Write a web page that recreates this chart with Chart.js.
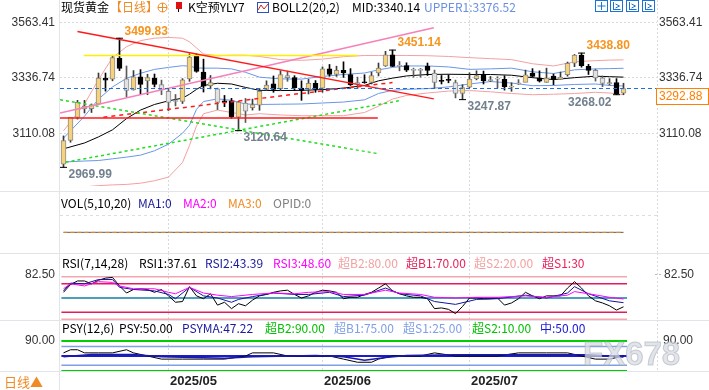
<!DOCTYPE html>
<html>
<head>
<meta charset="utf-8">
<script src="https://cdn.jsdelivr.net/npm/chart.js@4.4.1/dist/chart.umd.min.js"></script>
<style>
  html, body { margin: 0; padding: 0; background: #fff; }
  #wrap { position: relative; width: 709px; height: 390px; overflow: hidden; background: #fff;
          font-family: "Noto Sans CJK SC", "Liberation Sans", sans-serif; }
  #wrap canvas { position: absolute; left: 0; }
  .t { position: absolute; white-space: nowrap; line-height: 14px; font-size: 12px; color: #000; z-index: 5; }
  .hl { position: absolute; background: #e1e5ea; z-index: 4; }
</style>
</head>
<body>
<div id="wrap">
  <canvas id="cMain" width="709" height="191" style="top:0"></canvas>
  <canvas id="cVol" width="709" height="62" style="top:191px"></canvas>
  <canvas id="cRsi" width="709" height="67" style="top:253px"></canvas>
  <canvas id="cPsy" width="709" height="70" style="top:320px"></canvas>

  <!-- frame lines -->
  <div class="hl" style="left:59px;top:0;width:1px;height:390px"></div>
  <div class="hl" style="left:0;top:191px;width:709px;height:1px"></div>
  <div class="hl" style="left:0;top:253px;width:709px;height:1px"></div>
  <div class="hl" style="left:0;top:320px;width:709px;height:1px"></div>
  <div class="hl" style="left:0;top:371px;width:709px;height:1px"></div>

  <!-- header -->
  <span class="t" style="left:61px;top:0">现货黄金</span>
  <span class="t" style="left:110px;top:0;color:#f08a24">【日线】</span>
  <span class="t" style="left:188px;top:0">K空预YLY7</span>
  <span class="t" style="left:272px;top:0">BOLL2(20,2)</span>
  <span class="t" style="left:352px;top:0">MID:3340.14</span>
  <span class="t" style="left:424px;top:0;color:#6a8fe0">UPPER1:3376.52</span>

  <!-- VOL legend -->
  <span class="t" style="left:61px;top:196px">VOL(5,10,20)</span>
  <span class="t" style="left:138px;top:196px;color:#1a1a9a">MA1:0</span>
  <span class="t" style="left:183px;top:196px;color:#ff00ff">MA2:0</span>
  <span class="t" style="left:228px;top:196px;color:#f08a24">MA3:0</span>
  <span class="t" style="left:273px;top:196px;color:#808080">OPID:0</span>

  <!-- RSI legend -->
  <span class="t" style="left:62px;top:256px">RSI(7,14,28)</span>
  <span class="t" style="left:139px;top:256px">RSI1:37.61</span>
  <span class="t" style="left:205px;top:256px;color:#1a1a9a">RSI2:43.39</span>
  <span class="t" style="left:273px;top:256px;color:#ff00ff">RSI3:48.60</span>
  <span class="t" style="left:338px;top:256px;color:#f4a0a0">超B2:80.00</span>
  <span class="t" style="left:406px;top:256px;color:#e8205a">超B1:70.00</span>
  <span class="t" style="left:474px;top:256px;color:#f4a0a0">超S2:20.00</span>
  <span class="t" style="left:542px;top:256px;color:#e8205a">超S1:30</span>

  <!-- PSY legend -->
  <span class="t" style="left:62px;top:321px">PSY(12,6)</span>
  <span class="t" style="left:119px;top:321px">PSY:50.00</span>
  <span class="t" style="left:182px;top:321px;color:#1a1a9a">PSYMA:47.22</span>
  <span class="t" style="left:265px;top:321px;color:#00c000">超B2:90.00</span>
  <span class="t" style="left:334px;top:321px;color:#7f9fe6">超B1:75.00</span>
  <span class="t" style="left:403px;top:321px;color:#7f9fe6">超S1:25.00</span>
  <span class="t" style="left:472px;top:321px;color:#00c000">超S2:10.00</span>
  <span class="t" style="left:540px;top:321px;color:#1a1adb">中:50.00</span>

  <span class="t" style="left:4px;top:375px;font-size:13px;color:#f08a24">日线▲</span>
  <span class="t" style="left:583px;top:337px;font:bold 33px 'Liberation Sans',sans-serif;line-height:34px;color:rgba(215,219,226,0.75);-webkit-text-stroke:1px rgba(170,176,186,0.6)">FX678</span>
</div>

<script>
// ---------------------------------------------------------------
//  data (daily candles, 2025/04/09 - 07/31)
// ---------------------------------------------------------------
const dates = [
  '04/09','04/10','04/11','04/14','04/15','04/16','04/17','04/21','04/22','04/23','04/24','04/25','04/28','04/29','04/30',
  '05/01','05/02','05/05','05/06','05/07','05/08','05/09','05/12','05/13','05/14','05/15','05/16','05/19','05/20','05/21','05/22','05/23','05/26','05/27','05/28','05/29','05/30',
  '06/02','06/03','06/04','06/05','06/06','06/09','06/10','06/11','06/12','06/13','06/16','06/17','06/18','06/19','06/20','06/23','06/24','06/25','06/26','06/27','06/30',
  '07/01','07/02','07/03','07/04','07/07','07/08','07/09','07/10','07/11','07/14','07/15','07/16','07/17','07/18','07/21','07/22','07/23','07/24','07/25','07/28','07/29','07/30','07/31'
];
const opens = [
  2983,3080,3175,3221,3211,3229,3336,3332,3418,3333,3288,3341,3325,3336,3310,
  3282,3240,3240,3333,3430,3361,3305,3292,3243,3243,3176,3234,3215,3225,3290,3313,3293,3347,3338,3295,3290,3315,
  3295,3374,3351,3368,3351,3318,3320,3318,3357,3386,3432,3384,3388,3369,3369,3384,3357,3323,3330,3318,3273,
  3299,3334,3351,3326,3333,3331,3299,3313,3318,3357,3336,3318,3344,3331,3350,3397,3431,3384,3368,3337,3312,3318,3274
];
const highs = [
  3099,3175,3245,3245,3230,3357,3357,3430,3499.83,3386,3367,3371,3352,3353,3328,
  3290,3269,3334,3436,3435,3414,3347,3295,3265,3253,3241,3253,3250,3294,3325,3345,3366,3365,3346,3325,3331,3326,
  3382,3392,3385,3403,3375,3340,3350,3360,3398,3446,3451.14,3404,3399,3377,3376,3398,3369,3347,3350,3328,3309,
  3358,3366,3365,3343,3342,3346,3317,3330,3369,3375,3366,3377,3353,3361,3402,3433,3438.80,3393,3373,3345,3334,3334,3315
];
const lows = [
  2969.99,3073,3168,3193,3195,3228,3283,3325,3367,3260,3287,3268,3268,3300,3268,
  3202,3222,3232,3323,3360,3279,3292,3207,3219,3171,3120.64,3154,3205,3204,3285,3278,3287,3323,3285,3245,3271,3278,
  3278,3344,3343,3339,3306,3293,3315,3312,3345,3384,3383,3366,3363,3340,3340,3347,3295,3312,3317,3255,3247.87,
  3297,3329,3312,3322,3296,3287,3282,3310,3321,3340,3320,3319,3309,3332,3344,3383,3381,3351,3324,3301,3308,3268.02,3268
];
const closes = [
  3080,3175,3237,3210,3225,3336,3328,3420,3376,3286,3341,3310,3338,3310,3289,
  3236,3242,3329,3422,3364,3303,3318,3236,3236,3178,3238,3201,3228,3282,3308,3290,3351,3338,3297,3286,3315,3290,
  3374,3351,3368,3357,3308,3312,3317,3347,3377,3432,3384,3388,3369,3368,3368,3368,3318,3325,3327,3273,3297,
  3332,3347,3326,3330,3332,3301,3303,3317,3350,3343,3324,3336,3331,3340,3397,3431,3387,3368,3337,3314,3318,3272,3292.88
];
// candle colouring in the picture: y = yellow, b = black, g = grey
const tones = [
  'y','y','y','y','y','y','b','y','b','g','y','b','y','b','g',
  'g','g','y','y','b','b','y','g','b','b','y','g','y','y','y','b','y','g','b','b','y','b',
  'y','b','y','b','b','g','b','y','y','y','b','g','b','g','g','b','g','b','b','g','y',
  'y','y','b','y','g','b','y','g','y','b','b','y','b','y','y','y','b','b','g','g','y','b','y'
];

// BOLL2(20,2) bands, read at these candle positions
const bollIdx = [0,3,5,7,9,11,13,15,17,18,19,20,22,24,26,28,31,34,37,40,43,45,47,49,52,55,58,61,64,67,70,73,76,78,80];
const bollMid = [3046,3070,3095,3124,3170,3205,3228,3243,3254,3270,3290,3306,3315,3312,3298,3286,3285,3286,3289,3295,3306,3325,3336,3345,3351,3352,3351,3351,3348,3338,3330,3338,3344,3342,3340.14];
const bollUp1 = [3090,3180,3250,3300,3335,3356,3372,3380,3387,3385,3378,3377,3377,3374,3360,3340,3333,3332,3343,3351,3357,3370,3380,3386,3386,3382,3372,3374,3377,3362,3355,3370,3374,3375,3376.52];
const bollUp2 = [3120,3230,3330,3420,3465,3490,3500,3503,3500,3485,3460,3435,3428,3430,3430,3425,3412,3409,3414,3424,3429,3429,3429,3429,3428,3425,3420,3416,3412,3395,3386,3403,3408,3410,3411];
const bollDn1 = [2992,2996,2998,3005,3012,3020,3038,3065,3110,3143,3208,3240,3251,3245,3230,3228,3229,3230,3234,3238,3247,3273,3286,3290,3293,3300,3312,3322,3316,3305,3306,3310,3312,3306,3303.76];
const bollDn2 = [2880,2890,2895,2898,2900,2905,2915,2930,2990,3060,3140,3190,3205,3195,3185,3190,3185,3182,3182,3182,3195,3221,3250,3265,3275,3283,3285,3280,3273,3268,3270,3273,3278,3275,3268];

// hand-drawn lines: [candle position, price]
const redFallLine   = [[2, 3527], [52.9, 3251]];
const redFlatLine   = [[-0.5, 3173], [44.9, 3173]];
const yellowLine    = [[2.9, 3429], [42, 3429]];
const pinkRiseLine  = [[-0.5, 3193], [52.9, 3543]];
const greenFallLine = [[-0.5, 3247], [45, 3026]];
const greenRiseLine = [[0.3, 2991], [47.9, 3243]];
const redDashLine   = [[5.7, 3176], [47, 3318]];

const priceTicks = [3563.41, 3336.74, 3110.08];
const lastPrice = 3292.88;
const extremes = [
  { i: 0,  v: 2969.99, text: '2969.99', up: false },
  { i: 8,  v: 3499.83, text: '3499.83', up: true },
  { i: 25, v: 3120.64, text: '3120.64', up: false },
  { i: 47, v: 3451.14, text: '3451.14', up: true },
  { i: 57, v: 3247.87, text: '3247.87', up: false },
  { i: 74, v: 3438.80, text: '3438.80', up: true },
  { i: 79, v: 3268.02, text: '3268.02', up: false, left: true }
];

// VOL (spot gold has no volume: everything reads 0)
const volMa = Array(dates.length).fill(0);

// RSI(7,14,28)
const rsi1 = [58,69,74,74,70,75,78,79,67,57,62,63,62,58,62,53,44,45,66,53,49,56,40,44,35,42,39,47,53,55,58,60,61,55,50,53,58,61,60,58,49,51,51,55,58,64,70,60,56,53,51,51,49,35,36,34,28,38,50,50,49,49,50,40,43,49,58,53,49,53,53,53,64,73,64,53,46,43,39,33,37.61];
const rsiIdx = [0,1,3,5,7,8,10,13,15,16,18,20,22,24,25,27,30,33,35,38,40,43,46,48,51,53,56,59,62,66,69,72,73,75,78,80];
const rsi2 = [60,71,70,76,76,65,62,60,55,49,65,53,50,44,48,52,57,55,55,58,52,54,64,56,53,45,41,48,49,54,50,57,66,56,46,43.39];
const rsi3 = [63,70,67,73,72,67,63,63,58,56,65,57,54,52,53,55,57,56,58,59,55,55,61,57,55,51,50,51,51,53,51,54,59,56,51,48.60];
const rsiLevels = [80, 70, 50, 30, 20];

// PSY(12,6)
const psyIdx = [0,1,2,3,5,7,9,10,12,14,17,20,23,26,27,30,32,35,38,40,42,44,45,47,49,51,53,56,59,62,65,69,72,74,76,78,80];
const psy = [58.33,66.67,66.67,58.33,58.33,58.33,66.67,58.33,50,41.67,41.67,41.67,41.67,50,58.33,58.33,50,50,50,41.67,33.33,33.33,41.67,50,50,50,58.33,50,50,50,58.33,58.33,58.33,50,41.67,41.67,50];
const psyMaIdx = [0,4,10,14,23,27,36,40,43,46,49,56,75,80];
const psyMa = [48,54,54,48,44,48,51,48,39,46,51,53,53,47.22];
const psyLevels = [90, 75, 50, 25, 10];

const monthIdx = [15, 37, 58];
const monthText = ['2025/05', '2025/06', '2025/07'];

// ---------------------------------------------------------------
//  helpers
// ---------------------------------------------------------------
const N = dates.length;
function sparse(idx, vals) {
  const a = new Array(N).fill(null);
  idx.forEach((k, j) => { a[k] = vals[j]; });
  return a;
}
const crisp = v => Math.floor(v) + 0.5;
function seg(ctx, x1, y1, x2, y2) {
  ctx.beginPath(); ctx.moveTo(x1, y1); ctx.lineTo(x2, y2); ctx.stroke();
}
function gridMonths(chart) {
  const { ctx, scales: { x } } = chart;
  ctx.save();
  ctx.strokeStyle = '#d6d9de'; ctx.lineWidth = 1; ctx.setLineDash([2, 2]);
  monthIdx.forEach(i => seg(ctx, crisp(x.getPixelForValue(i)), 0, crisp(x.getPixelForValue(i)), chart.height));
  seg(ctx, 657.5, 0, 657.5, chart.height);
  ctx.restore();
}
function levelLine(v, color, width) {
  return { type: 'line', xAxisID: 'x2', data: [{ x: -0.3, y: v }, { x: 80.5, y: v }],
           borderColor: color, borderWidth: width, pointRadius: 0, order: 5 };
}
function drawnLine(pts, color, width, dash) {
  return { type: 'line', xAxisID: 'x2', data: pts.map(p => ({ x: p[0], y: p[1] })),
           borderColor: color, borderWidth: width, borderDash: dash || [], pointRadius: 0, order: 1 };
}
function bandLine(vals, color) {
  return { type: 'line', data: sparse(bollIdx, vals), borderColor: color, borderWidth: 1,
           pointRadius: 0, spanGaps: true, tension: 0, order: 8 };
}
const baseOptions = (ymin, ymax, padBottom) => ({
  responsive: false, animation: false, devicePixelRatio: 1,
  layout: { padding: { left: 60, right: 82, top: 0, bottom: padBottom || 0 } },
  plugins: { legend: { display: false }, tooltip: { enabled: false } },
  scales: {
    x: { display: false, offset: true, grid: { display: false } },
    x2: { type: 'linear', display: false, offset: false, min: -0.5, max: 80.5 },
    y: { display: false, min: ymin, max: ymax }
  }
});

const toneFill = { y: '#f7d27c', b: '#000000', g: '#e2e2e2' };
const toneEdge = { y: '#8a8a8a', b: '#000000', g: '#8a8a8a' };
const toneWick = { y: '#3a3a3a', b: '#000000', g: '#5a5a5a' };
const NUM = '12px "Liberation Sans", sans-serif';

// ---------------------------------------------------------------
//  main panel
// ---------------------------------------------------------------
const mainDecor = {
  id: 'mainDecor',
  beforeDatasetsDraw(chart) {
    const { ctx, scales: { y } } = chart;
    gridMonths(chart);
    ctx.save();
    ctx.strokeStyle = '#d6d9de'; ctx.lineWidth = 1; ctx.setLineDash([2, 2]);
    priceTicks.forEach(v => seg(ctx, 60, crisp(y.getPixelForValue(v)), 657, crisp(y.getPixelForValue(v))));
    ctx.restore();
  },
  afterDatasetsDraw(chart) {
    const { ctx, scales: { x, y } } = chart;
    ctx.save();
    // last price line
    const py = y.getPixelForValue(lastPrice);
    ctx.strokeStyle = '#1f6fd8'; ctx.lineWidth = 1; ctx.setLineDash([4, 3]);
    seg(ctx, 60, crisp(py), 656, crisp(py));
    ctx.setLineDash([]);
    // axis labels
    ctx.font = NUM; ctx.fillStyle = '#333'; ctx.textBaseline = 'middle';
    priceTicks.forEach(v => {
      const ty = y.getPixelForValue(v);
      ctx.textAlign = 'right'; ctx.fillText(v.toFixed(2), 55, ty);
      ctx.textAlign = 'left'; ctx.fillText(v.toFixed(2), 659, ty);
    });
    // last price box
    ctx.fillStyle = '#fff'; ctx.fillRect(656.5, crisp(py), 52, 16);
    ctx.strokeStyle = '#ff7f00'; ctx.strokeRect(656.5, crisp(py), 52, 16);
    ctx.fillStyle = '#ff7f00'; ctx.textAlign = 'left';
    ctx.fillText(lastPrice.toFixed(2), 659, crisp(py) + 8.5);
    // high / low notes
    ctx.font = 'bold 12px "Liberation Sans", sans-serif';
    extremes.forEach(e => {
      const ex = x.getPixelForValue(e.i), ey = y.getPixelForValue(e.v);
      ctx.fillStyle = e.up ? '#f7941d' : '#73808e';
      ctx.textAlign = e.left ? 'right' : 'left';
      ctx.fillText(e.text, e.left ? ex - 5 : ex + 5, e.up ? ey - 7 : ey + 7.5);
    });
    // header icons
    ctx.lineWidth = 1;
    ctx.strokeStyle = '#f08a24';
    ctx.beginPath(); ctx.arc(162.5, 7.5, 4.5, 0, Math.PI * 2); ctx.stroke();
    seg(ctx, 158, 7.5, 167, 7.5); seg(ctx, 162.5, 3, 162.5, 12);
    ctx.fillStyle = '#e01010'; ctx.fillRect(176, 2, 6, 7);
    ctx.strokeStyle = '#000'; seg(ctx, 178.5, 9, 178.5, 12);
    ctx.strokeStyle = '#3050c0'; ctx.strokeRect(257.5, 2.5, 11, 10);
    ctx.strokeStyle = '#d02020'; ctx.beginPath(); ctx.moveTo(258, 10); ctx.lineTo(261, 5); ctx.lineTo(264, 9); ctx.lineTo(268, 4); ctx.stroke();
    ctx.strokeStyle = '#1b74d3';
    [595.5, 610.5, 626.5, 642.5].forEach((ix, k) => {
      ctx.strokeRect(ix, 0.5, 12, 11);
      if (k === 0) { seg(ctx, ix + 6, 2, ix + 6, 10); seg(ctx, ix + 2, 6, ix + 10, 6); }
      else { seg(ctx, ix + 3, 2, ix + 3, 10); seg(ctx, ix + 3, 9.5, ix + 10, 9.5); seg(ctx, ix + 5, 4, ix + 9, 6); seg(ctx, ix + 9, 6, ix + 5, 8); }
    });
    ctx.restore();
  }
};

new Chart(document.getElementById('cMain'), {
  type: 'bar',
  data: {
    labels: dates,
    datasets: [
      { type: 'line', showLine: false, data: sparse(extremes.map(e => e.i), extremes.map(e => e.v)),
        pointStyle: 'line', pointRadius: 3.5, pointBorderColor: '#000', pointBorderWidth: 1, order: 0 },
      drawnLine(redFallLine, '#ff1a1a', 1.5),
      drawnLine(redFlatLine, '#ff1a1a', 1.5),
      drawnLine(yellowLine, '#ffee00', 1.5),
      drawnLine(pinkRiseLine, '#f77fba', 1.5),
      drawnLine(greenFallLine, '#20dd20', 1.5, [3, 3]),
      drawnLine(greenRiseLine, '#20dd20', 1.5, [3, 3]),
      drawnLine(redDashLine, '#ff1a1a', 1.5, [4, 4]),
      { type: 'bar', data: opens.map((o, i) => [o, closes[i]]), grouped: false,
        backgroundColor: tones.map(t => toneFill[t]), borderColor: tones.map(t => toneEdge[t]),
        borderWidth: 1, borderSkipped: false, barThickness: 5, minBarLength: 1, order: 2 },
      { type: 'bar', data: lows.map((l, i) => [l, highs[i]]), grouped: false,
        backgroundColor: tones.map(t => toneWick[t]), barThickness: 1, order: 3 },
      bandLine(bollMid, '#000000'),
      bandLine(bollUp1, '#6a96e8'),
      bandLine(bollDn1, '#6a96e8'),
      bandLine(bollUp2, '#f4a0a0'),
      bandLine(bollDn2, '#f4a0a0')
    ]
  },
  options: baseOptions(2893.5, 3636.1),
  plugins: [mainDecor]
});

// ---------------------------------------------------------------
//  VOL panel
// ---------------------------------------------------------------
new Chart(document.getElementById('cVol'), {
  type: 'line',
  data: {
    labels: dates,
    datasets: [
      { data: volMa, borderColor: '#f08a24', borderWidth: 1, borderDash: [4, 3], pointRadius: 0, order: 0 },
      { data: volMa, borderColor: '#5a5a5a', borderWidth: 1, pointRadius: 0, order: 1 }
    ]
  },
  options: baseOptions(-0.5, 1),
  plugins: [{
    id: 'volDecor',
    beforeDatasetsDraw(chart) {
      gridMonths(chart);
      const { ctx } = chart;
      ctx.save();
      ctx.strokeStyle = '#dddddd'; ctx.setLineDash([3, 3]);
      seg(ctx, 60, 24.5, 657, 24.5);
      ctx.restore();
    }
  }]
});

// ---------------------------------------------------------------
//  RSI panel
// ---------------------------------------------------------------
new Chart(document.getElementById('cRsi'), {
  type: 'line',
  data: {
    labels: dates,
    datasets: [
      { data: rsi1, borderColor: '#000000', borderWidth: 1, pointRadius: 0, tension: 0, order: 2 },
      { data: sparse(rsiIdx, rsi2), borderColor: '#1414a0', borderWidth: 1, pointRadius: 0, spanGaps: true, order: 1 },
      { data: sparse(rsiIdx, rsi3), borderColor: '#ff00ff', borderWidth: 1, pointRadius: 0, spanGaps: true, order: 0 },
      levelLine(rsiLevels[0], '#f4a6ae', 1.5),
      levelLine(rsiLevels[1], '#e6195a', 1.5),
      levelLine(rsiLevels[2], '#137fa2', 1.5),
      levelLine(rsiLevels[3], '#e6195a', 1.5),
      levelLine(rsiLevels[4], '#f4a6ae', 1.5)
    ]
  },
  options: baseOptions(19.0, 113.4),
  plugins: [{
    id: 'rsiDecor',
    beforeDatasetsDraw: gridMonths,
    afterDraw(chart) {
      const { ctx, scales: { y } } = chart;
      const ty = y.getPixelForValue(82.5);
      ctx.save();
      ctx.font = NUM; ctx.fillStyle = '#333'; ctx.textBaseline = 'middle';
      ctx.textAlign = 'right'; ctx.fillText('82.50', 55, ty);
      ctx.textAlign = 'left'; ctx.fillText('82.50', 664, ty);
      ctx.strokeStyle = '#bbb'; ctx.setLineDash([2, 2]); seg(ctx, 655, crisp(ty), 662, crisp(ty));
      ctx.restore();
    }
  }]
});

// ---------------------------------------------------------------
//  PSY panel + month labels
// ---------------------------------------------------------------
new Chart(document.getElementById('cPsy'), {
  type: 'line',
  data: {
    labels: dates,
    datasets: [
      { data: sparse(psyIdx, psy), borderColor: '#000000', borderWidth: 1, pointRadius: 0, spanGaps: true, order: 1 },
      { data: sparse(psyMaIdx, psyMa), borderColor: '#1a1aa8', borderWidth: 1.5, pointRadius: 0, spanGaps: true, order: 0 },
      levelLine(psyLevels[0], '#00d000', 2),
      levelLine(psyLevels[1], '#7f9fe6', 1.5),
      levelLine(psyLevels[2], '#1c1ccc', 2),
      levelLine(psyLevels[3], '#7f9fe6', 1.5),
      levelLine(psyLevels[4], '#00d000', 2)
    ]
  },
  options: baseOptions(7.33, 146, 18),
  plugins: [{
    id: 'psyDecor',
    beforeDatasetsDraw(chart) {
      const { ctx, scales: { x } } = chart;
      ctx.save();
      ctx.strokeStyle = '#d6d9de'; ctx.setLineDash([2, 2]);
      monthIdx.forEach(i => seg(ctx, crisp(x.getPixelForValue(i)), 0, crisp(x.getPixelForValue(i)), 51));
      seg(ctx, 657.5, 0, 657.5, 51);
      ctx.restore();
    },
    afterDraw(chart) {
      const { ctx, scales: { x, y } } = chart;
      const ty = y.getPixelForValue(90);
      ctx.save();
      ctx.font = NUM; ctx.fillStyle = '#333'; ctx.textBaseline = 'middle';
      ctx.textAlign = 'right'; ctx.fillText('90.00', 55, ty);
      ctx.textAlign = 'left'; ctx.fillText('90.00', 663, ty);
      ctx.font = 'bold 13px "Liberation Sans", sans-serif'; ctx.fillStyle = '#222';
      monthIdx.forEach((i, k) => ctx.fillText(monthText[k], x.getPixelForValue(i) + 1.5, 61));
      ctx.restore();
    }
  }]
});
</script>
</body>
</html>
